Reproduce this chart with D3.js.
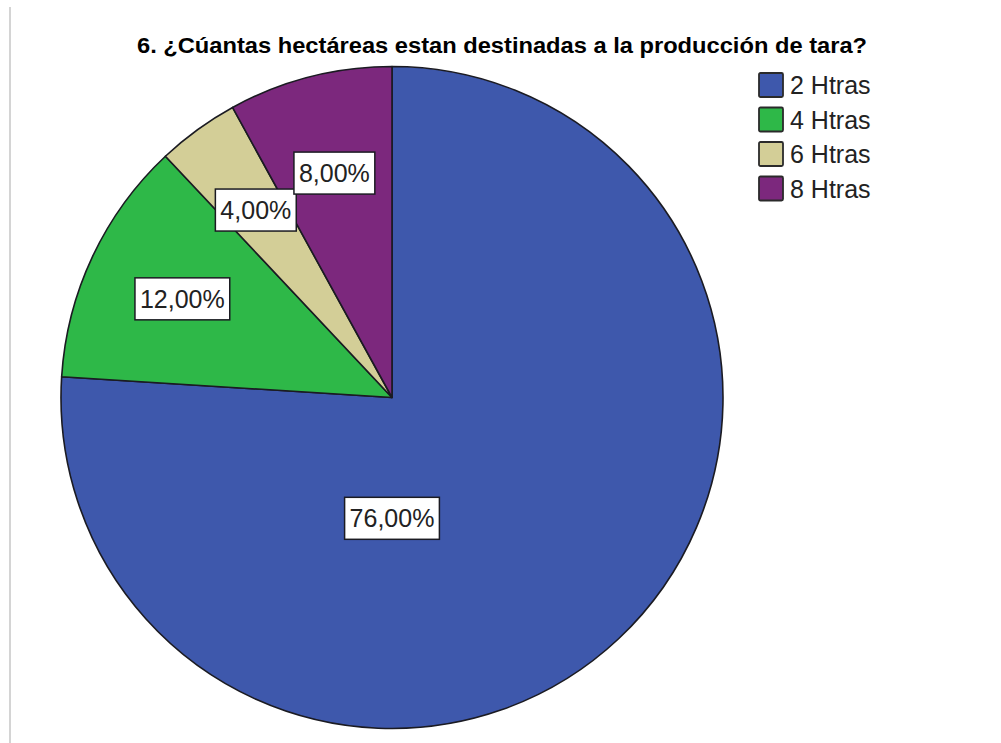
<!DOCTYPE html>
<html>
<head>
<meta charset="utf-8">
<script src="https://cdnjs.cloudflare.com/ajax/libs/d3/7.8.5/d3.min.js"></script>
<style>
  html, body { margin: 0; padding: 0; background: #ffffff; }
  svg { display: block; }
</style>
</head>
<body>
<svg id="chart" width="1001" height="743"></svg>
<script>
// Hectares devoted to tara production (share of respondents)
const categories = ["2 Htras", "4 Htras", "6 Htras", "8 Htras"];
const percents = [76, 12, 4, 8];
const colors = ["#3E58AC", "#2EB848", "#D3CE97", "#7C287D"];
const title = "6. ¿Cúantas hectáreas estan destinadas a la producción de tara?";

const svg = d3.select("#chart");
const W = 1001, H = 743;

// page frame with soft shadow
const defs = svg.append("defs");
const blur = defs.append("filter").attr("id", "soft")
  .attr("x", "-50%").attr("y", "-50%").attr("width", "200%").attr("height", "200%");
blur.append("feGaussianBlur").attr("stdDeviation", 1.6);
const frame = svg.append("g");
frame.append("line").attr("x1", 0).attr("x2", W).attr("y1", 5).attr("y2", 5)
  .attr("stroke", "#c4c4c4").attr("stroke-width", 4).attr("filter", "url(#soft)");
frame.append("line").attr("x1", 8).attr("x2", 8).attr("y1", 5).attr("y2", H)
  .attr("stroke", "#b8b8b8").attr("stroke-width", 4).attr("filter", "url(#soft)");
frame.append("rect").attr("x", 10).attr("y", 7).attr("width", W - 10).attr("height", H - 7)
  .attr("fill", "#ffffff");
frame.append("line").attr("x1", 10).attr("x2", 10).attr("y1", 7).attr("y2", H)
  .attr("stroke", "#a9a9a9").attr("stroke-width", 1);

// title (bold, condensed to its line width)
svg.append("text")
  .attr("x", 502).attr("y", 53)
  .attr("text-anchor", "middle")
  .attr("font-family", "'Liberation Sans Narrow', 'Liberation Sans', Arial, sans-serif")
  .attr("font-weight", "bold")
  .attr("font-size", 22)
  .attr("textLength", 730)
  .attr("lengthAdjust", "spacingAndGlyphs")
  .attr("fill", "#000")
  .text(title);

// pie
const cx = 392, cy = 397.5, R = 331;
const data = categories.map((c, i) => ({ cat: c, value: percents[i], color: colors[i] }));
const pie = d3.pie().sort(null).value(d => d.value);
const arcs = pie(data);
const arc = d3.arc().innerRadius(0).outerRadius(R);

const g = svg.append("g").attr("transform", `translate(${cx},${cy})`);
g.selectAll("path.slice").data(arcs).join("path")
  .attr("class", "slice")
  .attr("d", arc)
  .attr("fill", d => d.data.color)
  .attr("stroke", "#1b1b22")
  .attr("stroke-width", 1.6)
  .attr("stroke-linejoin", "round");

// value labels: small slices along their bisector, the dominant slice below the centre
const fmt = v => d3.format(".2f")(v).replace(".", ",") + "%";
const labelArc = d3.arc().innerRadius(R * 0.7).outerRadius(R * 0.7);
function labelPos(d) {
  if (d.endAngle - d.startAngle > Math.PI) return [0, R * 0.365];
  return labelArc.centroid(d);
}
const labels = g.selectAll("g.lbl").data(arcs).join("g")
  .attr("class", "lbl")
  .attr("transform", d => `translate(${labelPos(d)})`);
labels.each(function(d) {
  const sel = d3.select(this);
  const t = sel.append("text")
    .attr("text-anchor", "middle")
    .attr("dy", "0.36em")
    .attr("font-family", "'Liberation Sans', Arial, sans-serif")
    .attr("font-size", 25)
    .attr("fill", "#222")
    .text(fmt(d.data.value));
  const bb = t.node().getBBox();
  sel.insert("rect", "text")
    .attr("x", bb.x - 5)
    .attr("y", -21)
    .attr("width", bb.width + 10)
    .attr("height", 42)
    .attr("fill", "#ffffff")
    .attr("stroke", "#1b1b22")
    .attr("stroke-width", 1.5);
});

// legend
const legend = svg.append("g").attr("transform", "translate(759,73)");
const rows = legend.selectAll("g").data(data).join("g")
  .attr("transform", (d, i) => `translate(0,${i * 34.5})`);
rows.append("rect")
  .attr("x", 0).attr("y", 0).attr("width", 24).attr("height", 24)
  .attr("rx", 1.5)
  .attr("fill", d => d.color)
  .attr("stroke", "#2a2a2a")
  .attr("stroke-width", 1.8);
rows.append("text")
  .attr("x", 31).attr("y", 21)
  .attr("font-family", "'Liberation Sans', Arial, sans-serif")
  .attr("font-size", 25)
  .attr("fill", "#222")
  .text(d => d.cat);
</script>
</body>
</html>
